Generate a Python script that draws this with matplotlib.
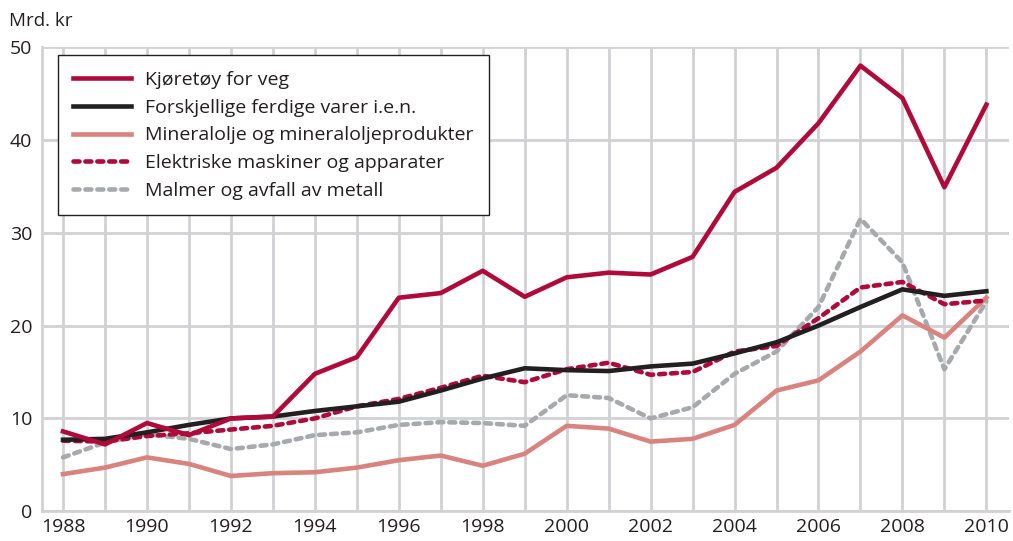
import matplotlib
matplotlib.use("Agg")
import matplotlib.pyplot as plt

plt.rcParams['font.family'] = ['Open Sans', 'DejaVu Sans']

years = list(range(1988, 2011))

kjoretoy = [8.6, 7.2, 9.5, 8.2, 10.0, 10.2, 14.8, 16.6, 23.0, 23.5, 25.9, 23.1,
            25.2, 25.7, 25.5, 27.4, 34.4, 37.0, 41.8, 48.0, 44.5, 34.9, 43.8]
forskjellige = [7.7, 7.8, 8.5, 9.3, 10.0, 10.2, 10.8, 11.3, 11.8, 13.0, 14.3, 15.4,
                15.2, 15.1, 15.6, 15.9, 17.0, 18.2, 20.0, 22.0, 23.9, 23.2, 23.7]
mineralolje = [4.0, 4.7, 5.8, 5.1, 3.8, 4.1, 4.2, 4.7, 5.5, 6.0, 4.9, 6.2,
               9.2, 8.9, 7.5, 7.8, 9.3, 13.0, 14.1, 17.2, 21.1, 18.7, 23.0]
elektriske = [7.6, 7.5, 8.1, 8.4, 8.8, 9.2, 10.0, 11.3, 12.1, 13.3, 14.6, 13.9,
              15.3, 16.0, 14.7, 15.0, 17.2, 17.8, 20.8, 24.1, 24.7, 22.3, 22.7]
malmer = [5.8, 7.4, 8.3, 7.8, 6.7, 7.2, 8.2, 8.5, 9.3, 9.6, 9.5, 9.2,
          12.5, 12.2, 10.0, 11.2, 14.8, 17.2, 22.0, 31.5, 26.8, 15.3, 22.6]

x_ticks = list(range(1988, 2011, 2))
y_ticks = [0, 10, 20, 30, 40, 50]

RED = '#b00a3a'
BLACK = '#231f20'
SALMON = '#d9837f'
GREY = '#a7a9ac'
GRID = '#d1d2d4'

fig = plt.figure(figsize=(10.13, 5.41), dpi=100)
ax = fig.add_axes([0.0415, 0.055, 0.955, 0.858])

lw = 3.3
ax.plot(years, kjoretoy, color=RED, lw=lw, label='Kjøretøy for veg', zorder=6)
ax.plot(years, forskjellige, color=BLACK, lw=lw, label='Forskjellige ferdige varer i.e.n.', zorder=5)
ax.plot(years, mineralolje, color=SALMON, lw=lw, label='Mineralolje og mineraloljeprodukter', zorder=3)
ax.plot(years, elektriske, color=RED, lw=lw, ls=(0, (1.3, 1.3)), dash_capstyle='round',
        label='Elektriske maskiner og apparater', zorder=4)
ax.plot(years, malmer, color=GREY, lw=lw, ls=(0, (1.3, 1.3)), dash_capstyle='round',
        label='Malmer og avfall av metall', zorder=2)

ax.set_xlim(1987.5, 2010.55)
ax.set_ylim(0, 50)
ax.set_xticks(x_ticks)
ax.set_yticks(y_ticks)
ax.set_xticks(years, minor=True)
ax.grid(True, which='both', color=GRID, lw=2, zorder=0)
ax.set_axisbelow(True)
ax.tick_params(which='both', length=0, labelsize=14, colors='#231f20', pad=5)
ax.tick_params(axis='y', pad=7)

for side in ('top', 'right'):
    ax.spines[side].set_visible(False)
for side in ('left', 'bottom'):
    ax.spines[side].set_color(GRID)
    ax.spines[side].set_linewidth(2)

fig.text(0.009, 0.952, 'Mrd. kr', fontsize=13.5, color='#231f20')

leg = ax.legend(loc='upper left', bbox_to_anchor=(0.016, 0.982), fontsize=14,
                frameon=True, fancybox=False, handlelength=3.0, handletextpad=0.7,
                borderpad=0.8, labelspacing=0.5, borderaxespad=0)
leg.get_frame().set_edgecolor('#231f20')
leg.get_frame().set_linewidth(1.0)
leg.get_frame().set_alpha(1)
for t in leg.get_texts():
    t.set_color('#231f20')

fig.savefig('out.png', dpi=100)
